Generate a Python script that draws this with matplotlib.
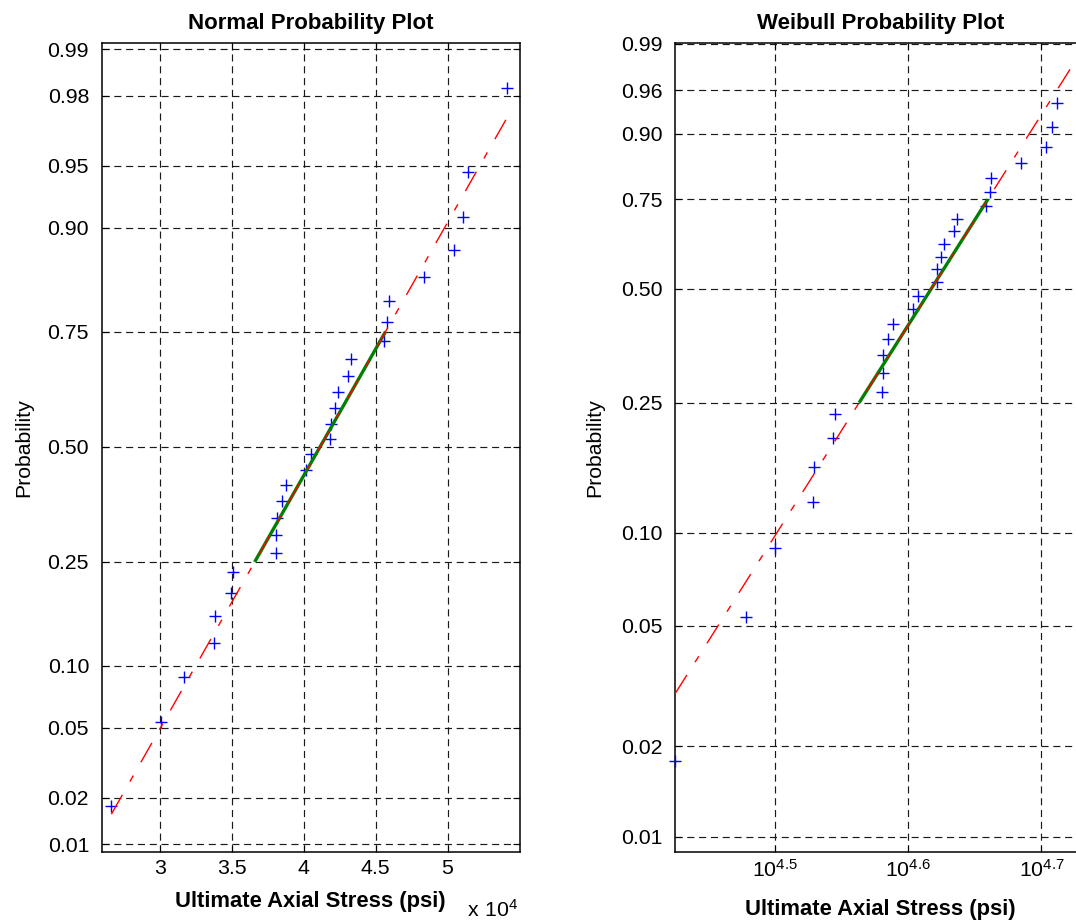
import numpy as np
import matplotlib
matplotlib.use("Agg")
import matplotlib.pyplot as plt
from matplotlib.ticker import FixedLocator, FuncFormatter, NullLocator
from statistics import NormalDist

# ---------------- data ----------------
stress_psi = [26620, 30070, 31640, 33780, 33840, 34940, 35110, 38060, 38100, 38120,
              38480, 38770, 40140, 40490, 41840, 41880, 42140, 42370, 43070, 43310,
              45560, 45820, 45950, 48390, 50470, 51060, 51450, 54170]
normal_prob_ticks = [0.01, 0.02, 0.05, 0.10, 0.25, 0.50, 0.75, 0.90, 0.95, 0.98, 0.99]
weibull_prob_ticks = [0.01, 0.02, 0.05, 0.10, 0.25, 0.50, 0.75, 0.90, 0.96, 0.99]
normal_xticks = [30000, 35000, 40000, 45000, 50000]
weibull_xtick_exponents = [4.5, 4.6, 4.7]
quartile_probs = [0.25, 0.75]

titles = ["Normal Probability Plot", "Weibull Probability Plot"]
xlabel = "Ultimate Axial Stress (psi)"
ylabel = "Probability"

# ---------------- style ----------------
plt.rcParams["font.family"] = ["Liberation Sans", "DejaVu Sans"]
plt.rcParams["font.size"] = 15

_nd = NormalDist()


def _ppf_scalar(v):
    if 0.0 < v < 1.0:
        return _nd.inv_cdf(float(v))
    return np.nan


def _cdf_scalar(z):
    if np.isnan(z):
        return np.nan
    return _nd.cdf(float(z))


normal_fwd = np.vectorize(_ppf_scalar, otypes=[float])
normal_inv = np.vectorize(_cdf_scalar, otypes=[float])


def weib_fwd(p):
    p = np.asarray(p, float)
    with np.errstate(all="ignore"):
        return np.log(-np.log(1.0 - p))


def weib_inv(v):
    v = np.asarray(v, float)
    with np.errstate(all="ignore"):
        return 1.0 - np.exp(-np.exp(v))


x = np.sort(np.asarray(stress_psi, float))
n = len(x)
pp = (np.arange(1, n + 1) - 0.5) / n


def matlab_prctile(xs, p):
    pos = n * p + 0.5
    return np.interp(pos, np.arange(1, n + 1), xs)


q1, q3 = (matlab_prctile(x, p) for p in quartile_probs)

fig = plt.figure(figsize=(10.76, 9.22), dpi=100)
ax1 = fig.add_axes([0.09442, 0.07560, 0.38885, 0.87744])
ax2 = fig.add_axes([0.62732, 0.07560, 0.38244, 0.87744])

dash_dot = (0, (16, 11, 5, 11))
grid_kw = dict(color="0.1", linestyle=(0, (6, 4)), linewidth=0.85)
tick_fs = 15.3


def style_axes(ax):
    for s in ax.spines.values():
        s.set_linewidth(1.1)
        s.set_color("black")
    ax.tick_params(which="both", direction="in", top=True, right=True,
                   length=5, width=0.8, labelsize=tick_fs)
    ax.tick_params(axis="y", pad=9)
    ax.tick_params(axis="x", pad=5)
    ax.grid(True, which="major", **grid_kw)
    ax.set_axisbelow(True)


# ---------------- Normal probability plot ----------------
ax1.set_yscale("function", functions=(normal_fwd, normal_inv))
ax1.plot(x, pp, linestyle="none", marker="+", color="#0000ff",
         markersize=9, markeredgewidth=1.0, zorder=3)
z1, z3 = (_nd.inv_cdf(p) for p in quartile_probs)
slope = (z3 - z1) / (q3 - q1)
xe = np.array([x[0], x[-1]])
pe = normal_inv(z1 + slope * (xe - q1))
ax1.plot([q1, q3], quartile_probs, color="#008000", linewidth=2.4,
         solid_capstyle="butt", zorder=4)
ax1.plot(xe, pe, color="#ff0000", linewidth=1.0, linestyle=dash_dot, zorder=5)

ax1.set_xlim(25940, 55040)
ax1.set_ylim(_nd.cdf(-2.374), _nd.cdf(2.362))
ax1.yaxis.set_major_locator(FixedLocator(normal_prob_ticks))
ax1.yaxis.set_minor_locator(NullLocator())
ax1.yaxis.set_major_formatter(FuncFormatter(lambda v, _: f"{v:.2f}"))
ax1.xaxis.set_major_locator(FixedLocator(normal_xticks))
ax1.xaxis.set_minor_locator(NullLocator())
ax1.xaxis.set_major_formatter(FuncFormatter(lambda v, _: f"{v / 1e4:g}"))
style_axes(ax1)
ax1.set_title(titles[0], fontsize=16, fontweight="bold", pad=10)
ax1.set_xlabel(xlabel, fontsize=15.8, fontweight="bold", labelpad=9)
ax1.set_ylabel(ylabel, fontsize=15.3)
ax1.yaxis.set_label_coords(-0.163, 0.5)
fig.text(518 / 1076, 1 - 917 / 922, r"$\mathregular{x\ 10^{4}}$",
         ha="right", va="baseline", fontsize=tick_fs)

# ---------------- Weibull probability plot ----------------
ax2.set_xscale("log")
ax2.set_yscale("function", functions=(weib_fwd, weib_inv))
ax2.plot(x, pp, linestyle="none", marker="+", color="#0000ff",
         markersize=9, markeredgewidth=1.0, zorder=3, clip_on=False)
v1, v3 = weib_fwd(np.array(quartile_probs))
wslope = (v3 - v1) / (np.log(q3) - np.log(q1))
we = weib_inv(v1 + wslope * (np.log(xe) - np.log(q1)))
ax2.plot([q1, q3], quartile_probs, color="#008000", linewidth=2.4,
         solid_capstyle="butt", zorder=4)
ax2.plot(xe, we, color="#ff0000", linewidth=1.0, linestyle=dash_dot, zorder=5)

ax2.set_xlim(x[0], x[-1])
ax2.set_ylim(0.00887, 0.9902)
ax2.yaxis.set_major_locator(FixedLocator(weibull_prob_ticks))
ax2.yaxis.set_minor_locator(NullLocator())
ax2.yaxis.set_major_formatter(FuncFormatter(lambda v, _: f"{v:.2f}"))
ax2.xaxis.set_major_locator(FixedLocator([10 ** e for e in weibull_xtick_exponents]))
ax2.xaxis.set_minor_locator(NullLocator())
ax2.xaxis.set_major_formatter(FuncFormatter(
    lambda v, _: r"$\mathregular{10^{%g}}$" % round(np.log10(v), 2)))
style_axes(ax2)
ax2.set_title(titles[1], fontsize=16, fontweight="bold", pad=10)
ax2.set_xlabel(xlabel, fontsize=15.8, fontweight="bold", labelpad=13)
ax2.set_ylabel(ylabel, fontsize=15.3)
ax2.yaxis.set_label_coords(-0.173, 0.5)

fig.savefig("out.png", dpi=100)
